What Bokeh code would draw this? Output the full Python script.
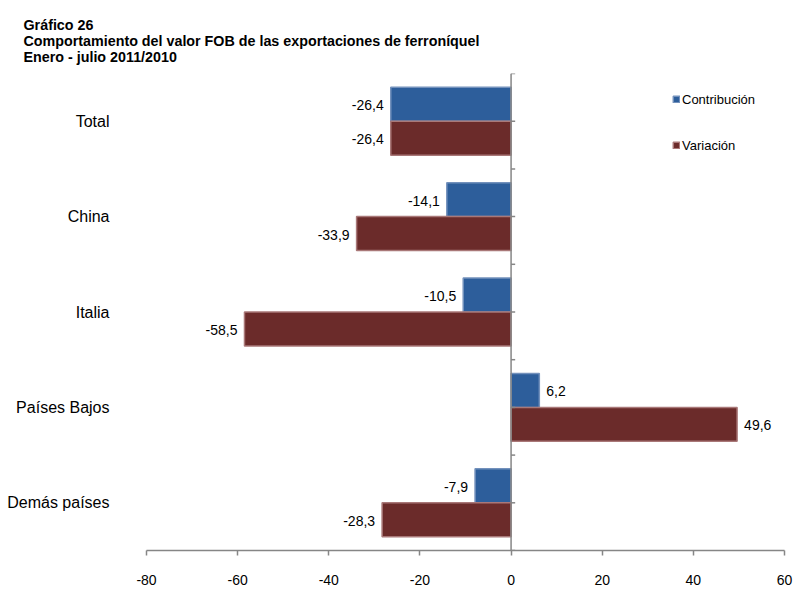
from bokeh.plotting import figure
from bokeh.models import (Range1d, FixedTicker, Span, Legend, LegendItem, Title,
                          ColumnDataSource)
from bokeh.core.properties import value
from bokeh.embed import file_html
from bokeh.resources import INLINE

# ---- data ----
categories = ["Total", "China", "Italia", "Países Bajos", "Demás países"]
contribucion = [-26.4, -14.1, -10.5, 6.2, -7.9]
variacion = [-26.4, -33.9, -58.5, 49.6, -28.3]
x_ticks = [-80, -60, -40, -20, 0, 20, 40, 60]
series_names = ["Contribución", "Variación"]
title_lines = ["Gráfico 26",
               "Comportamiento del valor FOB de las exportaciones de ferroníquel",
               "Enero - julio 2011/2010"]

FONT = "Liberation Sans"
BLUE = "#2D5E9B"
BLUE_EDGE = "#7391BC"
RED = "#6B2B2A"
RED_EDGE = "#A97878"
AXIS = "#868686"


def fmt(v):
    return f"{v:.1f}".replace(".", ",")


n = len(categories)
pos = list(range(n))
bar_h = 0.356

p = figure(width=793, height=589,
           x_range=Range1d(x_ticks[0], x_ticks[-1]),
           y_range=Range1d(n - 0.5, -0.5),
           output_backend="svg", toolbar_location=None,
           min_border_left=146, min_border_right=9,
           min_border_top=73, min_border_bottom=39)
p.outline_line_color = None
p.xgrid.grid_line_color = None
p.ygrid.grid_line_color = None
p.background_fill_color = "white"


def make_src(vals, offset):
    return ColumnDataSource(dict(
        y=[i + offset for i in pos],
        right=vals,
        label=[fmt(v) for v in vals],
        align=["right" if v < 0 else "left" for v in vals],
        xoff=[-7 if v < 0 else 7 for v in vals],
    ))


src_c = make_src(contribucion, -bar_h / 2)
src_v = make_src(variacion, bar_h / 2)

r_c = p.hbar(y="y", left=0, right="right", height=bar_h, source=src_c,
             fill_color=BLUE, line_color=BLUE_EDGE, line_width=1.5)
r_v = p.hbar(y="y", left=0, right="right", height=bar_h, source=src_v,
             fill_color=RED, line_color=RED_EDGE, line_width=1.5)

for src in (src_c, src_v):
    p.text(x="right", y="y", text="label", source=src, text_align="align",
           x_offset="xoff", y_offset=1, text_baseline="middle",
           text_font=value(FONT), text_font_size="14px", text_color="black")

# vertical axis at zero with tick marks
p.add_layout(Span(location=0, dimension="height", line_color=AXIS, line_width=1.5))
tick_y = [-0.5 + 0.5 * k for k in range(2 * n + 1)]
p.segment(x0=[0] * len(tick_y), x1=[0.9] * len(tick_y), y0=tick_y, y1=tick_y,
          line_color=AXIS, line_width=1.5)

# x axis
xa = p.xaxis[0]
xa.ticker = FixedTicker(ticks=x_ticks)
xa.major_label_overrides = {t: str(t) for t in x_ticks}
xa.axis_line_color = AXIS
xa.axis_line_width = 1.5
xa.major_tick_line_color = AXIS
xa.major_tick_line_width = 1.5
xa.major_tick_out = 5
xa.major_tick_in = 0
xa.minor_tick_line_color = None
xa.major_label_standoff = 19
xa.major_label_text_font = FONT
xa.major_label_text_font_size = "14px"
xa.major_label_text_color = "black"

# y (category) axis
ya = p.yaxis[0]
ya.ticker = FixedTicker(ticks=pos)
ya.major_label_overrides = {i: c for i, c in zip(pos, categories)}
ya.axis_line_color = None
ya.major_tick_line_color = None
ya.minor_tick_line_color = None
ya.major_label_standoff = 31
ya.major_label_text_font = FONT
ya.major_label_text_font_size = "16px"
ya.major_label_text_color = "black"

# legend
legend = Legend(items=[LegendItem(label=series_names[0], renderers=[r_c]),
                       LegendItem(label=series_names[1], renderers=[r_v])],
                location=(526, 397), orientation="vertical",
                glyph_width=8, glyph_height=8, label_height=16, spacing=30,
                label_standoff=2, padding=0, margin=0,
                label_text_font=FONT, label_text_font_size="13px",
                label_text_color="black",
                background_fill_alpha=0, border_line_alpha=0)
p.add_layout(legend)

# title (three bold lines)
p.add_layout(Title(text="\n".join(title_lines), align="left", offset=-123,
                   standoff=17, text_line_height=1.0,
                   text_font=FONT, text_font_size="14.3px",
                   text_font_style="bold", text_color="black"), "above")

open("out.html", "w").write(file_html(p, INLINE))
